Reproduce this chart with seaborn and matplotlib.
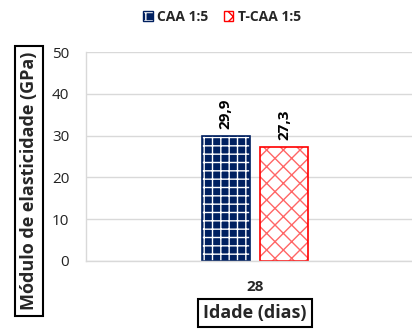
import matplotlib
matplotlib.use("Agg")
import matplotlib.pyplot as plt
import matplotlib.patches as mpatches
import seaborn as sns
import pandas as pd

idades = ["28"]
series = ["CAA 1:5", "T-CAA 1:5"]
caa_vals = [29.9]
tcaa_vals = [27.3]
yticks = [0, 10, 20, 30, 40, 50]

df = pd.DataFrame({
    "Idade": idades * 2,
    "Serie": [series[0]] * len(idades) + [series[1]] * len(idades),
    "Valor": caa_vals + tcaa_vals,
})

sns.set_theme(style="white")
plt.rcParams["font.family"] = ["Open Sans", "DejaVu Sans"]
plt.rcParams["hatch.linewidth"] = 1.0

W, H = 412, 329
fig = plt.figure(figsize=(W / 100, H / 100), dpi=100)
ax_w = W - 86 + 4
ax = fig.add_axes([86 / W, 1 - 261 / H, ax_w / W, 209 / H])

navy = "#002060"
red = "#FF0000"
sns.barplot(data=df, x="Idade", y="Valor", hue="Serie", hue_order=series,
            palette=[navy, red], width=0.8, gap=0.18, ax=ax, legend=False)

styles = [
    dict(fc=navy, ec=navy, hatch="++", hc=(1, 1, 1, 1)),
    dict(fc="white", ec=red, hatch="xx", hc=(1, 0.4, 0.4, 1)),
]
for cont, st in zip(ax.containers, styles):
    for p in cont:
        p.set_facecolor(st["fc"])
        p.set_edgecolor(st["ec"])
        p.set_linewidth(1.2)
        p.set_hatch(st["hatch"])
        p._hatch_color = st["hc"]
    vals = [v.get_height() for v in cont]
    ax.bar_label(cont, labels=[f"{v:.1f}".replace(".", ",") for v in vals],
                 rotation=90, padding=5, fontsize=11, fontweight="bold",
                 color="black")

scale = 146.25
ax.set_xlim((86 - 255) / scale, (86 + ax_w - 255) / scale)
ax.set_ylim(0, 50)
ax.set_yticks(yticks)
ax.yaxis.grid(True, color="#D9D9D9", lw=1)
ax.set_axisbelow(True)
for s in ["top", "right"]:
    ax.spines[s].set_visible(False)
for s in ["left", "bottom"]:
    ax.spines[s].set_color("#D9D9D9")
    ax.spines[s].set_linewidth(1)
ax.tick_params(axis="y", length=0, pad=12, labelsize=11, labelcolor="#222222")
ax.tick_params(axis="x", length=0, pad=14)
for t in ax.get_xticklabels():
    t.set_fontweight("bold")
    t.set_fontsize(11)

box = dict(boxstyle="square,pad=0.3", fc="white", ec="black", lw=1.5)
ax.set_xlabel("Idade (dias)", fontsize=13, fontweight="bold", bbox=box)
ax.xaxis.set_label_coords((255 - 86) / ax_w, (261 - 304) / 209)
ax.set_ylabel("Módulo de elasticidade (GPa)", fontsize=13, fontweight="bold",
              bbox=box)
ax.yaxis.set_label_coords((38 - 86) / ax_w, (261 - 181) / 209)

handles = [
    mpatches.Patch(facecolor=navy, edgecolor=navy, hatch="++", label=series[0]),
    mpatches.Patch(facecolor="white", edgecolor=red, hatch="xx", label=series[1]),
]
leg = fig.legend(handles=handles, loc="center", bbox_to_anchor=(222 / W, 1 - 17 / H),
                 ncol=2, frameon=False, handlelength=0.7,
                 handleheight=0.7, handletextpad=0.3, columnspacing=1.1,
                 prop=dict(weight="bold", size=10))
leg.legend_handles[0]._hatch_color = (1, 1, 1, 1)

fig.savefig("out.png", dpi=100)
